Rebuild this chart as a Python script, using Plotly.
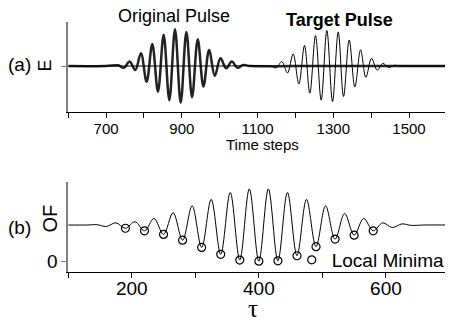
import plotly.graph_objects as go

# ---------------- data ----------------
# (a) original pulse: extrema points (time step, E)
orig_t = [600, 700, 732, 747, 762, 777, 792, 807, 822, 837, 852, 867, 882, 897,
          912, 927, 942, 957, 972, 987, 1002, 1017, 1032, 1047, 1062, 1080,
          1200, 1400, 1600]
orig_E = [0, 0, 0.02, -0.05, 0.12, -0.11, 0.35, -0.43, 0.60, -0.70, 0.85, -0.93,
          1.0, -1.0, 0.93, -0.85, 0.73, -0.56, 0.44, -0.27, 0.21, -0.06, 0.12,
          -0.05, 0.03, 0, 0, 0, 0]

# (a) target pulse: extrema points
targ_t = [600, 1000, 1134, 1149, 1164, 1179, 1194, 1209, 1224, 1238, 1253, 1268,
          1283, 1298, 1313, 1327, 1342, 1357, 1372, 1386, 1401, 1416, 1431, 1446,
          1461, 1480, 1600]
targ_E = [0, 0, 0, -0.05, 0.12, -0.19, 0.33, -0.49, 0.56, -0.74, 0.83, -0.93,
          0.97, -0.97, 0.93, -0.83, 0.71, -0.57, 0.44, -0.31, 0.21, -0.11, 0.07,
          -0.04, 0.02, 0, 0]

# (b) objective function vs tau
tau = [100, 130, 145, 160, 175, 190, 205, 220, 235, 250, 265, 280, 295, 310, 325,
       340, 355, 370, 385, 400, 415, 430, 445, 460, 475, 490, 505, 520, 535, 550,
       565, 580, 595, 610, 625, 640, 660, 700]
of = [1.0, 1.0, 1.01, 0.96, 1.06, 0.91, 1.09, 0.84, 1.18, 0.74, 1.34, 0.58, 1.53,
      0.38, 1.71, 0.19, 1.90, 0.03, 2.0, 0.0, 2.0, 0.01, 1.90, 0.15, 1.71, 0.40,
      1.53, 0.61, 1.32, 0.72, 1.18, 0.84, 1.06, 0.93, 1.03, 0.99, 1.0, 1.0]

# local minima
min_tau = [190, 220, 250, 280, 310, 340, 370, 400, 430, 460, 490, 520, 550, 580]
min_of = [0.91, 0.84, 0.74, 0.58, 0.38, 0.19, 0.03, 0.0, 0.01, 0.15, 0.40, 0.61,
          0.72, 0.84]

xticks_a = [700, 900, 1100, 1300, 1500]
xticks_b = [200, 400, 600]

FONT = "Liberation Sans, Arial, sans-serif"
W, H = 450, 321

fig = go.Figure()

fig.add_trace(go.Scatter(x=orig_t, y=orig_E, mode="lines",
                         line=dict(color="#222222", width=2.5, shape="spline", smoothing=1),
                         showlegend=False, xaxis="x", yaxis="y"))
fig.add_trace(go.Scatter(x=targ_t, y=targ_E, mode="lines",
                         line=dict(color="#000000", width=1, shape="spline", smoothing=1),
                         showlegend=False, xaxis="x", yaxis="y"))

fig.add_trace(go.Scatter(x=tau, y=of, mode="lines",
                         line=dict(color="#000000", width=1, shape="spline", smoothing=1),
                         showlegend=False, xaxis="x2", yaxis="y2"))
fig.add_trace(go.Scatter(x=min_tau, y=min_of, mode="markers", name="Local Minima",
                         marker=dict(symbol="circle-open", size=8, color="#000000",
                                     line=dict(width=1.2)),
                         showlegend=True, xaxis="x2", yaxis="y2"))

x0 = 69 / W
def py(px):
    return 1 - px / H

common_x = dict(showline=True, linecolor="#000000", linewidth=1, ticks="outside",
                ticklen=5, tickcolor="#000000", showgrid=False, zeroline=False)
common_y = dict(showline=True, linecolor="#808080", linewidth=1.5, ticks="outside",
                ticklen=5, tickcolor="#808080", showgrid=False, zeroline=False,
                tickfont=dict(family=FONT, size=19, color="#000000"))

fig.update_layout(
    width=W, height=H,
    margin=dict(l=0, r=0, t=0, b=0),
    paper_bgcolor="white", plot_bgcolor="white",
    font=dict(family=FONT, color="#000000"),
    xaxis=dict(domain=[x0, 1], range=[600, 1595], anchor="y",
               tickvals=xticks_a, ticktext=[str(v) for v in xticks_a],
               minor=dict(dtick=100, tick0=600, ticks="outside", ticklen=5,
                          tickcolor="#000000"),
               ticklabelstandoff=-2,
               tickfont=dict(family=FONT, size=15, color="#000000"), **common_x),
    yaxis=dict(domain=[py(112), py(22)], range=[-1.253, 1.2], anchor="x",
               tickvals=[0], showticklabels=False, **common_y),
    xaxis2=dict(domain=[x0, 1], range=[100, 693], anchor="y2",
                tickvals=xticks_b, ticktext=[str(v) for v in xticks_b],
                minor=dict(dtick=100, tick0=100, ticks="outside", ticklen=5,
                           tickcolor="#000000"),
                ticklabelstandoff=-6,
                tickfont=dict(family=FONT, size=19, color="#000000"), **common_x),
    yaxis2=dict(domain=[py(272), py(182)], range=[-0.3, 2.19], anchor="x2",
                tickvals=[0], ticktext=["0"], **common_y),
    legend=dict(x=295 / W, y=py(260), xanchor="left", yanchor="middle",
                font=dict(family=FONT, size=19, color="#000000"),
                bgcolor="rgba(0,0,0,0)", itemwidth=30, tracegroupgap=0),
)

def ann(text, x, y, size, bold=False, angle=0, family=FONT):
    fig.add_annotation(text=f"<b>{text}</b>" if bold else text,
                       x=x / W, y=py(y), xref="paper", yref="paper",
                       showarrow=False, xanchor="center", yanchor="middle",
                       textangle=angle,
                       font=dict(family=family, size=size, color="#000000"))

ann("Original Pulse", 176, 16, 18)
ann("Target Pulse", 343, 20, 18, bold=True)
ann("(a)", 20, 64, 19)
ann("E", 46, 65, 18, angle=-90)
ann("Time steps", 265, 144, 15)
ann("(b)", 20, 227, 19)
ann("OF", 51, 218, 20, angle=-90)
ann("τ", 256, 308, 25, family="Liberation Serif, DejaVu Serif, serif")

fig.write_html("out.html", config={"displayModeBar": False},
               post_script="document.body.style.margin='0';")
